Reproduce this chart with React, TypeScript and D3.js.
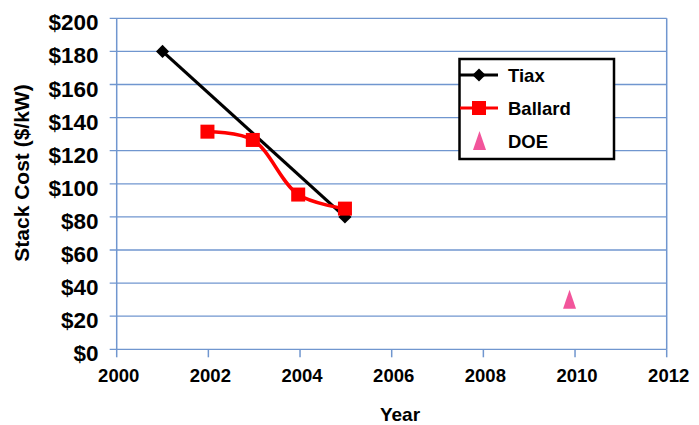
import React from 'react';
import * as d3 from 'd3';

// values
const tiaxYears = [2001, 2004.98];
const tiaxCost = [180, 80];
const ballardYears = [2001.98, 2002.97, 2003.96, 2004.98];
const ballardCost = [131.5, 126.5, 93.5, 85];
const doeYears = [2009.88];
const doeCost = [30];
const xTicks = [2000, 2002, 2004, 2006, 2008, 2010, 2012];
const yTicks = [0, 20, 40, 60, 80, 100, 120, 140, 160, 180, 200];
const seriesNames = ['Tiax', 'Ballard', 'DOE'];

const W = 699;
const H = 425;
const plot = { left: 116.7, right: 666.7, top: 18.3, bottom: 349.3 };
const font = '"Liberation Sans", Arial, sans-serif';
const gridColor = '#7096CF';

const App: React.FC = () => {
  const x = d3.scaleLinear().domain([2000, 2012]).range([plot.left, plot.right]);
  const y = d3.scaleLinear().domain([0, 200]).range([plot.bottom, plot.top]);

  const tiax = tiaxYears.map((yr, i) => [x(yr), y(tiaxCost[i])] as [number, number]);
  const ballard = ballardYears.map((yr, i) => [x(yr), y(ballardCost[i])] as [number, number]);
  const doe = doeYears.map((yr, i) => [x(yr), y(doeCost[i])] as [number, number]);

  const straight = d3.line();
  const smooth = d3.line().curve(d3.curveCatmullRom.alpha(0.5));
  const diamond = d3.symbol().type(d3.symbolDiamond2).size(110);
  const tri = (cx: number, cy: number) =>
    `M${cx},${cy - 10}L${cx + 6.5},${cy + 9}L${cx - 6.5},${cy + 9}Z`;

  const lg = { x: 459.5, y: 59, w: 154.5, h: 100 };
  const rowY = [75, 108, 141];

  return (
    <div style={{ position: 'absolute', left: 0, top: 0 }}>
      <svg width={W} height={H} style={{ display: 'block', fontFamily: font }}>
        <rect width={W} height={H} fill="#fff" />
        {/* grid + y ticks */}
        {yTicks.map(t => (
          <g key={t}>
            <line x1={plot.left - 7} x2={plot.right} y1={y(t)} y2={y(t)} stroke={gridColor} strokeWidth={1.3} />
            <text x={98.5} y={y(t) + 12} textAnchor="end" fontSize={22.5} fontWeight="bold">
              {`$${t}`}
            </text>
          </g>
        ))}
        <line x1={plot.left} x2={plot.left} y1={plot.top} y2={plot.bottom} stroke={gridColor} strokeWidth={1.5} />
        <line x1={plot.right} x2={plot.right} y1={plot.top} y2={plot.bottom} stroke={gridColor} strokeWidth={1.5} />
        {xTicks.map(t => (
          <g key={t}>
            <line x1={x(t)} x2={x(t)} y1={plot.bottom} y2={plot.bottom + 8} stroke={gridColor} strokeWidth={1.5} />
            <text x={x(t) + 2} y={381.5} textAnchor="middle" fontSize={18.5} fontWeight="bold">
              {t}
            </text>
          </g>
        ))}
        <text x={400} y={421} textAnchor="middle" fontSize={19} fontWeight="bold">Year</text>
        <text transform="translate(29,173) rotate(-90)" textAnchor="middle" fontSize={21} fontWeight="bold">
          Stack Cost ($/kW)
        </text>

        {/* Tiax */}
        <path d={straight(tiax) || ''} fill="none" stroke="#000" strokeWidth={3.2} />
        {tiax.map((p, i) => (
          <path key={i} d={diamond() || ''} transform={`translate(${p[0]},${p[1]})`} fill="#000" />
        ))}

        {/* Ballard */}
        <path d={smooth(ballard) || ''} fill="none" stroke="#FF0000" strokeWidth={3.5} />
        {ballard.map((p, i) => (
          <rect key={i} x={p[0] - 7} y={p[1] - 7} width={14} height={14} fill="#FF0000" />
        ))}

        {/* DOE */}
        {doe.map((p, i) => (
          <path key={i} d={tri(p[0], p[1])} fill="#F2559B" />
        ))}

        {/* legend */}
        <rect x={lg.x} y={lg.y} width={lg.w} height={lg.h} fill="#fff" stroke="#000" strokeWidth={2.5} />
        <line x1={460} x2={498} y1={rowY[0]} y2={rowY[0]} stroke="#000" strokeWidth={3} />
        <path d={diamond() || ''} transform={`translate(479,${rowY[0]})`} fill="#000" />
        <line x1={460} x2={498} y1={rowY[1]} y2={rowY[1]} stroke="#FF0000" strokeWidth={3} />
        <rect x={472} y={rowY[1] - 7} width={14} height={14} fill="#FF0000" />
        <path d={tri(479.5, rowY[2])} fill="#F2559B" />
        {seriesNames.map((n, i) => (
          <text key={n} x={508} y={rowY[i]} dy="0.36em" fontSize={18.5} fontWeight="bold">
            {n}
          </text>
        ))}
      </svg>
    </div>
  );
};

export default App;
